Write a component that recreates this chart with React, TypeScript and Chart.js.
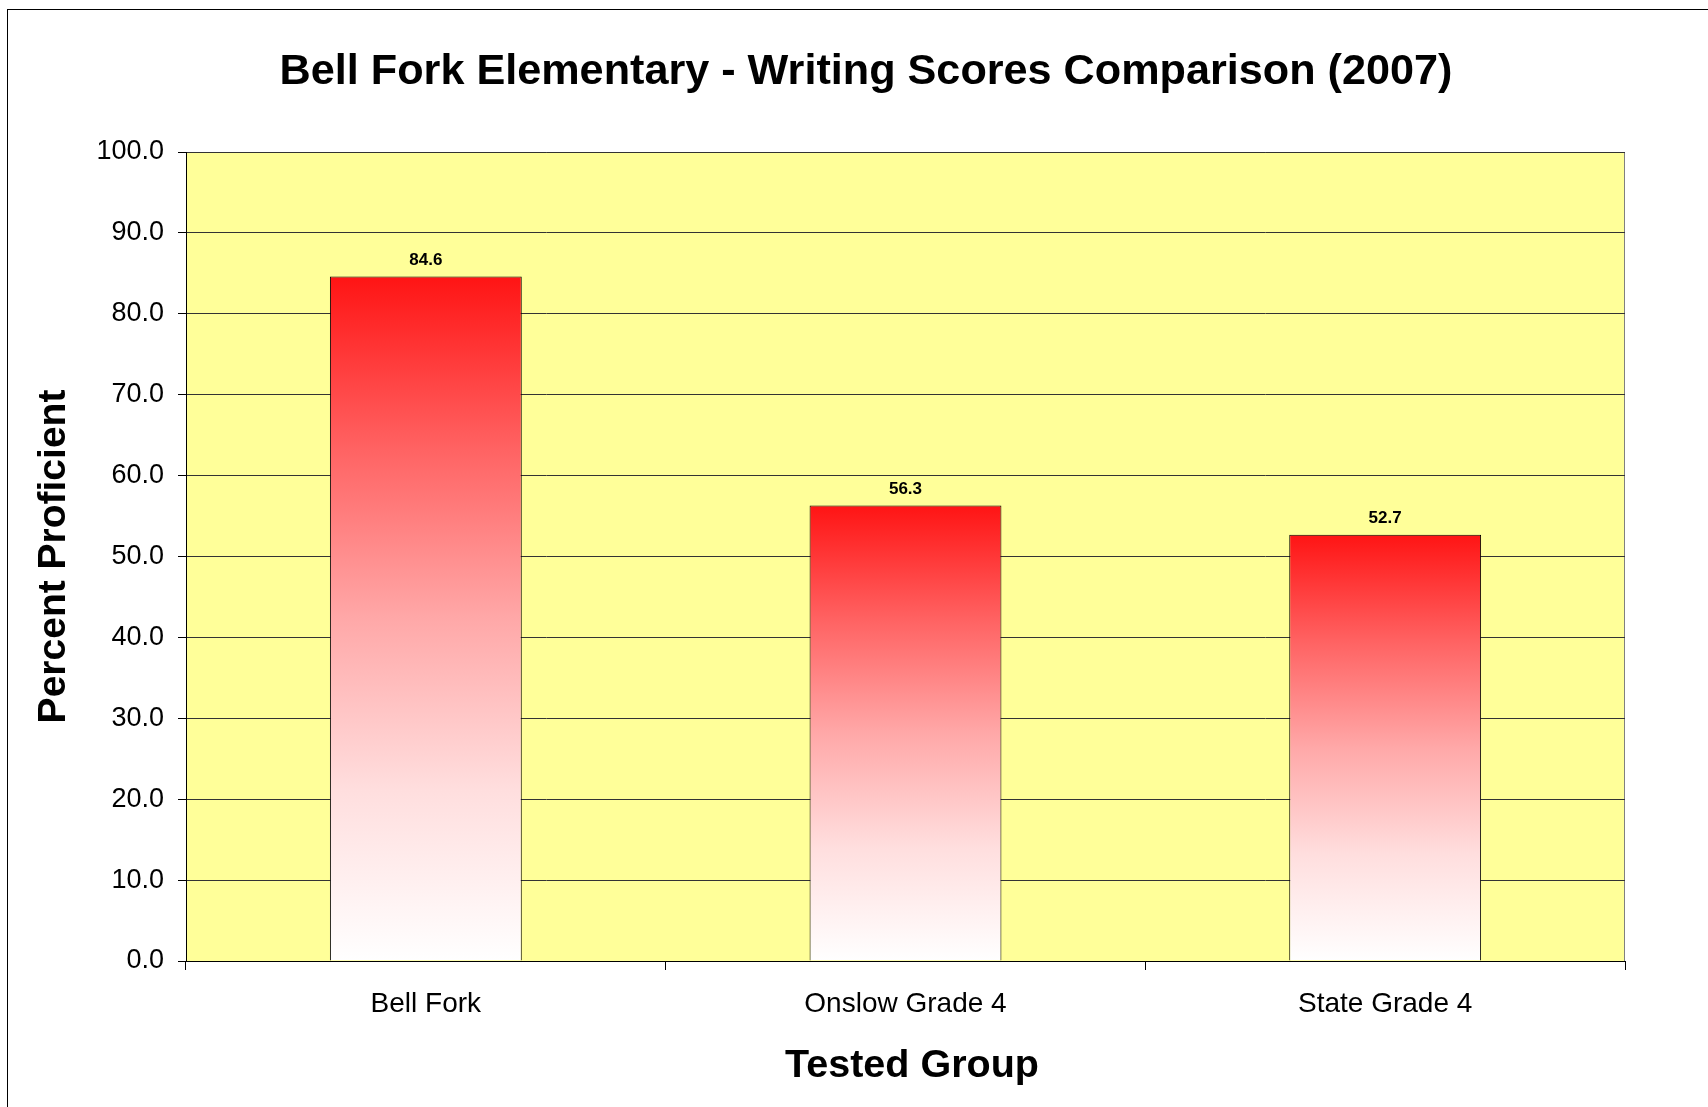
import React, { useEffect, useRef } from "react";
import { Chart, registerables } from "chart.js";

Chart.register(...registerables);

const titleText = "Bell Fork Elementary - Writing Scores Comparison (2007)";
const categories = ["Bell Fork", "Onslow Grade 4", "State Grade 4"];
const values = [84.6, 56.3, 52.7];
const yTitle = "Percent Proficient";
const xTitle = "Tested Group";

const FONT = "'Liberation Sans', Arial, Helvetica, sans-serif";

const framePlugin = {
  id: "framePlugin",
  beforeDraw(chart: any) {
    const { ctx, chartArea } = chart;
    ctx.save();
    ctx.fillStyle = "#ffffff";
    ctx.fillRect(0, 0, chart.width, chart.height);
    ctx.strokeStyle = "#000000";
    ctx.lineWidth = 1;
    ctx.strokeRect(7.5, 9.5, chart.width + 50, chart.height + 50);
    ctx.fillStyle = "#FFFF99";
    ctx.fillRect(chartArea.left, chartArea.top, chartArea.right - chartArea.left, chartArea.bottom - chartArea.top);
    ctx.strokeStyle = "#808080";
    ctx.strokeRect(chartArea.left + 0.5, chartArea.top + 0.5, chartArea.right - chartArea.left - 1, chartArea.bottom - chartArea.top);
    // chart title
    ctx.fillStyle = "#000000";
    ctx.font = `bold 43.2px ${FONT}`;
    ctx.textAlign = "center";
    ctx.textBaseline = "alphabetic";
    ctx.fillText(titleText, 866, 84);
    // x axis title
    ctx.font = `bold 39.5px ${FONT}`;
    ctx.fillText(xTitle, 912, 1077);
    ctx.restore();
  },
  afterDatasetsDraw(chart: any) {
    const { ctx } = chart;
    const meta = chart.getDatasetMeta(0);
    ctx.save();
    ctx.fillStyle = "#000000";
    ctx.font = `bold 17px ${FONT}`;
    ctx.textAlign = "center";
    ctx.textBaseline = "alphabetic";
    meta.data.forEach((el: any, i: number) => {
      ctx.fillText(values[i].toFixed(1), el.x, el.y - 12);
    });
    ctx.restore();
  },
};

function barGradient(c: any) {
  const chart = c.chart;
  const y = chart.scales && chart.scales.y;
  if (!chart.chartArea || !y || c.parsed === undefined) return "#FF1414";
  const top = y.getPixelForValue(c.parsed.y);
  const bottom = y.getPixelForValue(0);
  if (!isFinite(top) || !isFinite(bottom) || top === bottom) return "#FF1414";
  const g = chart.ctx.createLinearGradient(0, top, 0, bottom);
  g.addColorStop(0, "#FF1414");
  g.addColorStop(0.25, "#FF6262");
  g.addColorStop(0.5, "#FFA8A8");
  g.addColorStop(0.75, "#FFDEDE");
  g.addColorStop(1, "#FFFFFF");
  return g;
}

export default function App() {
  const ref = useRef<HTMLCanvasElement>(null);
  useEffect(() => {
    if (!ref.current) return;
    const chart = new Chart(ref.current, {
      type: "bar",
      data: {
        labels: categories,
        datasets: [
          {
            data: values,
            backgroundColor: barGradient,
            borderColor: "#000000",
            borderWidth: 1,
            categoryPercentage: 0.4,
            barPercentage: 1,
          },
        ],
      },
      options: {
        responsive: false,
        animation: false,
        layout: { padding: { left: 7, right: 83, top: 152, bottom: 0 } },
        plugins: {
          legend: { display: false },
          title: { display: false },
          tooltip: { enabled: false },
        },
        scales: {
          x: {
            afterFit(scale: any) {
              scale.height = 146;
            },
            grid: {
              offset: true,
              drawOnChartArea: false,
              drawTicks: true,
              tickLength: 9,
              color: "#000000",
            },
            border: { display: true, color: "#000000", width: 1 },
            ticks: {
              color: "#000000",
              font: { family: FONT, size: 28 },
              padding: 17,
              maxRotation: 0,
            },
            title: { display: false, text: xTitle },
          },
          y: {
            min: 0,
            max: 100,
            afterFit(scale: any) {
              scale.width = 179;
            },
            ticks: {
              stepSize: 10,
              color: "#000000",
              font: { family: FONT, size: 27 },
              padding: 14,
              callback: (v: any) => Number(v).toFixed(1),
            },
            grid: {
              color: "#333333",
              lineWidth: 1,
              drawTicks: true,
              tickLength: 8,
              tickColor: "#000000",
            },
            border: { display: true, color: "#000000", width: 1 },
            title: {
              display: true,
              text: yTitle,
              color: "#000000",
              font: { family: FONT, size: 39, weight: "bold" },
              padding: { top: 24, bottom: 0 },
            },
          },
        },
      },
      plugins: [framePlugin],
    });
    return () => chart.destroy();
  }, []);
  return (
    <div style={{ position: "fixed", left: 0, top: 0, width: 1708, height: 1107, background: "#fff" }}>
      <canvas ref={ref} width={1708} height={1107} style={{ display: "block", width: 1708, height: 1107 }} />
    </div>
  );
}
